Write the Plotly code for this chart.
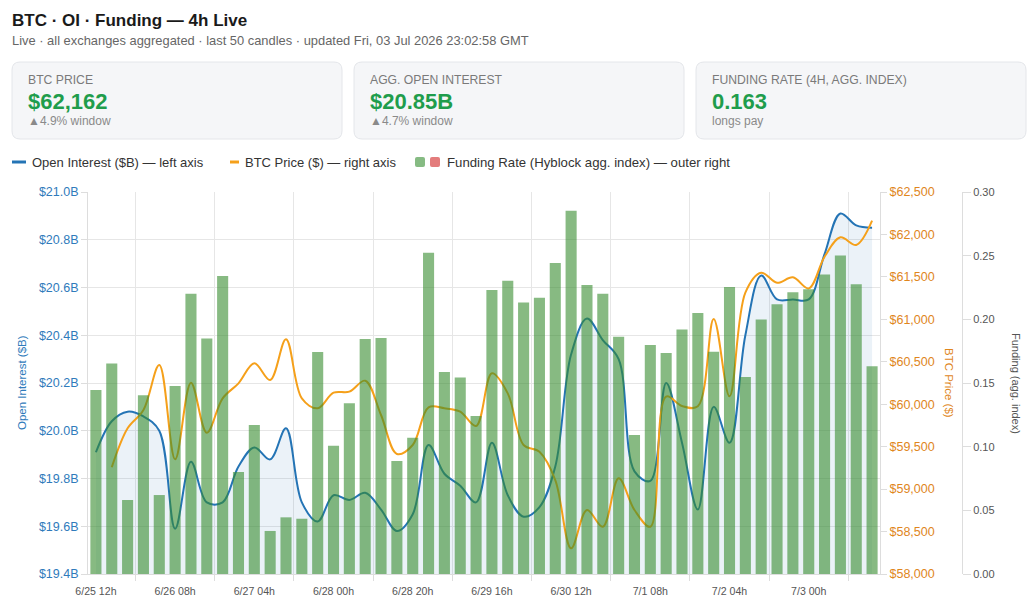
import plotly.graph_objects as go

# 50 x 4h candles, 6/25 12h -> 7/3 16h
tick_pos = [0, 5, 10, 15, 20, 25, 30, 35, 40, 45]
tick_text = ["6/25 12h", "6/26 08h", "6/27 04h", "6/28 00h", "6/28 20h",
             "6/29 16h", "6/30 12h", "7/1 08h", "7/2 04h", "7/3 00h"]

oi = [19.91, 20.04, 20.08, 20.06, 20.00, 19.59, 19.87, 19.70, 19.70, 19.85,
      19.93, 19.88, 20.01, 19.70, 19.62, 19.73, 19.71, 19.74, 19.67, 19.58,
      19.65, 19.94, 19.82, 19.77, 19.70, 19.95, 19.73, 19.64, 19.68, 19.85,
      20.32, 20.47, 20.38, 20.30, 19.83, 19.79, 20.20, 19.95, 19.67, 20.10,
      19.95, 20.40, 20.65, 20.55, 20.55, 20.55, 20.74, 20.91, 20.86, 20.85]

price = [None, 59257, 59716, 59932, 60462, 59351, 60254, 59665, 60069, 60246,
         60482, 60285, 60765, 60069, 59952, 60136, 60148, 60277, 59873, 59414,
         59520, 59963, 59952, 59912, 59743, 60364, 60128, 59520, 59441, 59107,
         58303, 58754, 58557, 59127, 58754, 58557, 60090, 59979, 59975, 61005,
         60093, 61315, 61549, 61431, 61495, 61365, 61738, 61966, 61876, 62162]

funding = [0.1445, 0.1654, 0.0581, 0.1403, 0.0620, 0.1476, 0.2201, 0.1850, 0.2340, 0.0801,
           0.1170, 0.0338, 0.0445, 0.0434, 0.1743, 0.1008, 0.1340, 0.1845, 0.1853, 0.0887,
           0.1070, 0.2523, 0.1586, 0.1544, 0.1241, 0.2230, 0.2303, 0.2133, 0.2170, 0.2442,
           0.2853, 0.2270, 0.2201, 0.1864, 0.1092, 0.1798, 0.1736, 0.1921, 0.2049, 0.1746,
           0.2254, 0.1548, 0.1998, 0.2118, 0.2212, 0.2236, 0.2353, 0.2502, 0.2275, 0.1631]

oi_ticks = [19.4, 19.6, 19.8, 20.0, 20.2, 20.4, 20.6, 20.8, 21.0]
price_ticks = [58000, 58500, 59000, 59500, 60000, 60500, 61000, 61500, 62000, 62500]
fund_ticks = [0.0, 0.05, 0.10, 0.15, 0.20, 0.25, 0.30]

FONT = "Liberation Sans, Arial, sans-serif"
BLUE = "#2474b5"
ORANGE = "#f5a01a"
ORANGE_TXT = "#e0861c"
BLUE_TXT = "#2f7bbb"
GREY = "#555555"
GRID = "#e6e6e6"

# the page body has an 8px margin, so the figure is shrunk and shifted by that
OFF = 8
W, H = 1035 - 2 * OFF, 605 - 2 * OFF
L, T = 88 - OFF, 192 - OFF
PW, PH = 907, 382
R = W - L - PW
B = H - T - PH


def px(x):
    # page pixel -> paper
    return (x - OFF - L) / PW


def py(y):
    return (T + PH - (y - OFF)) / PH


x = list(range(len(oi)))

fig = go.Figure()
fig.add_trace(go.Scatter(x=x, y=oi, yaxis="y", mode="lines",
                         line=dict(color=BLUE, width=2, shape="spline", smoothing=1),
                         fill="tozeroy", fillcolor="rgba(36,116,181,0.09)",
                         name="Open Interest ($B)"))
fig.add_trace(go.Scatter(x=x, y=price, yaxis="y2", mode="lines",
                         line=dict(color=ORANGE, width=2, shape="spline", smoothing=1),
                         name="BTC Price ($)"))
fig.add_trace(go.Bar(x=x, y=funding, yaxis="y3",
                     marker=dict(color="rgba(55,140,47,0.6)", line=dict(width=0)),
                     name="Funding Rate"))

shapes = []
annotations = []


def rounded(x0, y0, x1, y1, r=8):
    rx, ry = r / PW, r / PH
    a0, a1 = px(x0), px(x1)
    b0, b1 = py(y1), py(y0)  # b0 bottom, b1 top
    return (f"M {a0+rx},{b1} L {a1-rx},{b1} Q {a1},{b1} {a1},{b1-ry} "
            f"L {a1},{b0+ry} Q {a1},{b0} {a1-rx},{b0} L {a0+rx},{b0} "
            f"Q {a0},{b0} {a0},{b0+ry} L {a0},{b1-ry} Q {a0},{b1} {a0+rx},{b1} Z")


def text(x0, y0, s, size, color, bold=False, xanchor="left", angle=0):
    annotations.append(dict(
        x=px(x0), y=py(y0), xref="paper", yref="paper", text=f"<b>{s}</b>" if bold else s,
        showarrow=False, xanchor=xanchor, yanchor="middle", textangle=angle,
        font=dict(family=FONT, size=size, color=color)))


# header
text(10, 20, "BTC · OI · Funding — 4h Live", 17, "#1a1a1a", bold=True)
text(10, 40, "Live · all exchanges aggregated · last 50 candles · updated Fri, 03 Jul 2026 23:02:58 GMT",
     12.9, "#666666")

# stat cards
cards = [
    (12, 342, "BTC PRICE", "$62,162", "▲4.9% window"),
    (354, 684, "AGG. OPEN INTEREST", "$20.85B", "▲4.7% window"),
    (696, 1026, "FUNDING RATE (4H, AGG. INDEX)", "0.163", "longs pay"),
]
for c0, c1, lab, val, sub in cards:
    shapes.append(dict(type="path", path=rounded(c0, 62, c1, 139), xref="paper", yref="paper",
                       fillcolor="#f5f6f8", line=dict(color="#e4e6ea", width=1), layer="below"))
    text(c0 + 14, 80, lab, 12.2, "#7a7a7a")
    text(c0 + 14, 101.5, val, 22, "#1f9d4c", bold=True)
    text(c0 + 14, 121, sub, 12, "#8a8a8a")

# custom legend
shapes.append(dict(type="rect", xref="paper", yref="paper", x0=px(12), x1=px(26), y0=py(163.5), y1=py(160.5),
                   fillcolor=BLUE, line=dict(width=0)))
text(30, 162, "Open Interest ($B) — left axis", 13, "#333333")
shapes.append(dict(type="rect", xref="paper", yref="paper", x0=px(230), x1=px(239), y0=py(163.5), y1=py(160.5),
                   fillcolor=ORANGE, line=dict(width=0)))
text(243, 162, "BTC Price ($) — right axis", 13, "#333333")
shapes.append(dict(type="path", path=rounded(415, 157, 425, 167, 2), xref="paper", yref="paper",
                   fillcolor="#86bb83", line=dict(width=0)))
shapes.append(dict(type="path", path=rounded(430, 157, 440, 167, 2), xref="paper", yref="paper",
                   fillcolor="#e37c7c", line=dict(width=0)))
text(445, 162, "Funding Rate (Hyblock agg. index) — outer right", 13.2, "#333333")

# axis titles
text(22, 383, "Open Interest ($B)", 11.5, BLUE_TXT, xanchor="center", angle=-90)
text(949, 383, "BTC Price ($)", 11.5, ORANGE_TXT, xanchor="center", angle=90)
text(1016, 383, "Funding (agg. index)", 11, GREY, xanchor="center", angle=90)

fig.update_layout(
    width=W, height=H,
    margin=dict(l=L, r=R, t=T, b=B, pad=0, autoexpand=False),
    paper_bgcolor="white", plot_bgcolor="white",
    showlegend=False, bargap=0.3,
    font=dict(family=FONT, size=12, color=GREY),
    shapes=shapes, annotations=annotations,
    xaxis=dict(domain=[0, px(880)], range=[-0.5, 49.5], automargin=False,
               tickmode="array", tickvals=tick_pos, ticktext=tick_text,
               showgrid=False, ticks="outside", ticklen=7, tickcolor="rgba(0,0,0,0)",
               tickfont=dict(size=10.6, color=GREY),
               showline=True, linecolor="#dddddd", linewidth=1,
               minor=dict(tickmode="array", tickvals=[p + 2.5 for p in tick_pos],
                          showgrid=True, gridcolor=GRID, gridwidth=1,
                          ticks="outside", ticklen=6, tickcolor="#dddddd"),
               zeroline=False),
    yaxis=dict(range=[19.4, 21.0], tickmode="array", tickvals=oi_ticks, automargin=False,
               ticktext=[f"${v:.1f}B" for v in oi_ticks],
               tickfont=dict(size=12.5, color=BLUE_TXT),
               showgrid=True, gridcolor=GRID, zeroline=False,
               ticks="outside", ticklen=6, tickcolor="#dddddd",
               showline=True, linecolor="#dddddd"),
    yaxis2=dict(range=[58000, 62500], overlaying="y", side="right", anchor="x", automargin=False,
                tickmode="array", tickvals=price_ticks,
                ticktext=[f"${v:,}" for v in price_ticks],
                tickfont=dict(size=12.5, color=ORANGE_TXT),
                showgrid=False, zeroline=False,
                ticks="outside", ticklen=6, tickcolor="#dddddd",
                showline=True, linecolor="#dddddd"),
    yaxis3=dict(range=[0, 0.30], overlaying="y", side="right", anchor="free", automargin=False,
                position=px(962), tickmode="array", tickvals=fund_ticks,
                ticktext=[f"{v:.2f}" for v in fund_ticks],
                tickfont=dict(size=11, color=GREY),
                showgrid=False, zeroline=False,
                ticks="outside", ticklen=8, tickcolor="#dddddd",
                showline=True, linecolor="#dddddd"),
)

fig.write_html("out.html")
